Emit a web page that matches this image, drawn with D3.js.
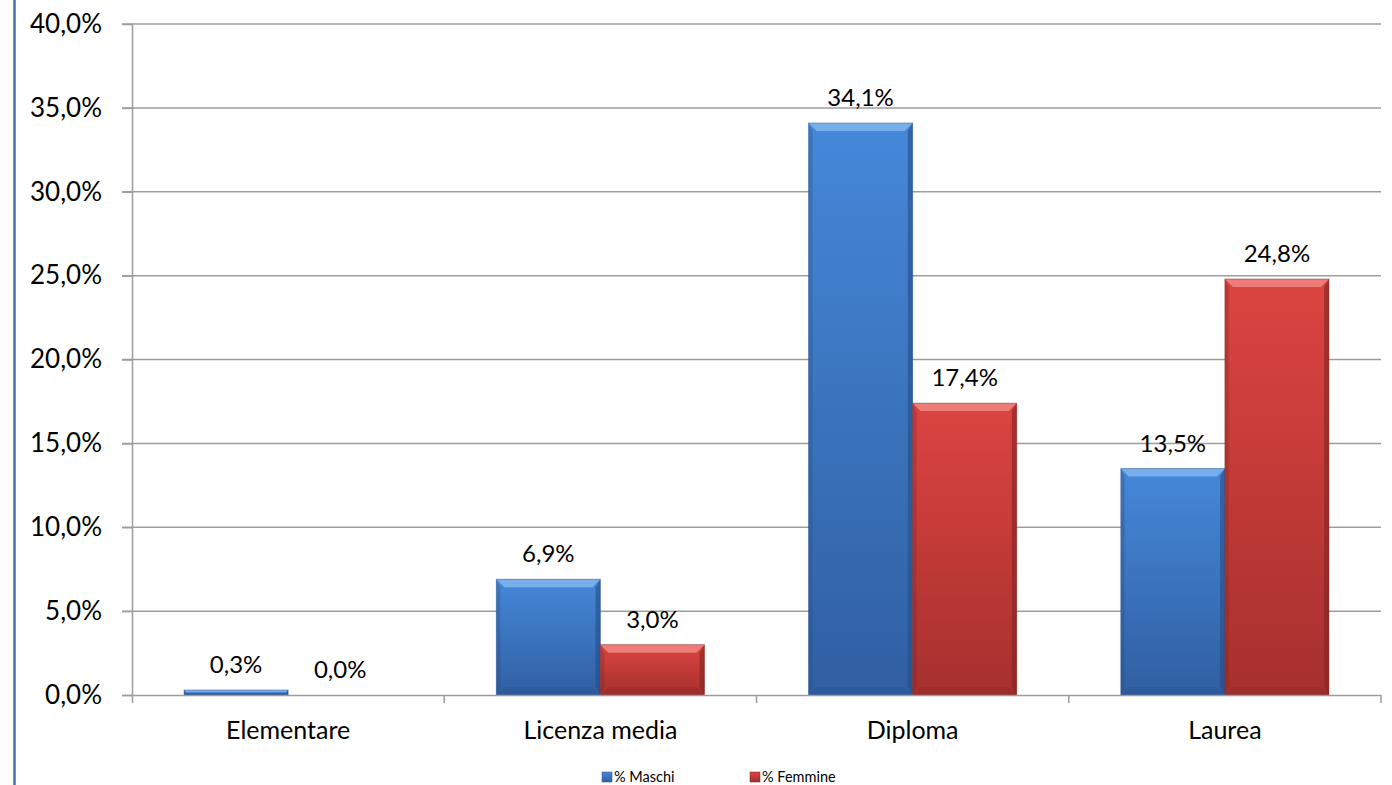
<!DOCTYPE html>
<html>
<head>
<meta charset="utf-8">
<script src="https://cdn.jsdelivr.net/npm/d3@7"></script>
<style>
  body { margin: 0; background: #fff; }
  svg { display: block; font-family: Lato, "Open Sans", sans-serif; }
</style>
</head>
<body>
<div id="chart"></div>
<script>
var categories = ['Elementare', 'Licenza media', 'Diploma', 'Laurea'];
var seriesNames = ['% Maschi', '% Femmine'];
var maschi = [0.3, 6.9, 34.1, 13.5];
var femmine = [0.0, 3.0, 17.4, 24.8];
var yTicks = [0, 5, 10, 15, 20, 25, 30, 35, 40];

var width = 1392, height = 785;
var margin = { left: 132, right: 11, top: 24, bottom: 90 };

var svg = d3.select('#chart').append('svg')
  .attr('width', width)
  .attr('height', height);

var fmt = function(v) { return d3.format('.1f')(v).replace('.', ',') + '%'; };

var x = d3.scaleBand()
  .domain(categories)
  .range([margin.left, width - margin.right])
  .paddingInner(0)
  .paddingOuter(0);

// two bars take 2/3 of each category, 1/6 gap on each side
var x1 = d3.scaleBand()
  .domain(seriesNames)
  .range([0, x.bandwidth()])
  .paddingOuter(0.5);

var y = d3.scaleLinear()
  .domain([0, 40])
  .range([height - margin.bottom, margin.top]);

// gradients
var defs = svg.append('defs');
var colors = [
  { top: '#4588d9', bottom: '#305fa2', light: '#86b8f0', dark: '#244d85' },
  { top: '#dc4441', bottom: '#a6302e', light: '#f28c88', dark: '#7f2422' }
];
colors.forEach(function(c, i) {
  var g = defs.append('linearGradient').attr('id', 'grad' + i)
    .attr('x1', 0).attr('y1', 0).attr('x2', 0).attr('y2', 1);
  g.append('stop').attr('offset', '0%').attr('stop-color', c.top);
  g.append('stop').attr('offset', '100%').attr('stop-color', c.bottom);
});

// left frame line
svg.append('line')
  .attr('x1', 14.5).attr('x2', 14.5)
  .attr('y1', 0).attr('y2', height)
  .attr('stroke', '#4a6fa5').attr('stroke-width', 2.5);

// gridlines
svg.append('g')
  .selectAll('line')
  .data(yTicks.filter(function(d) { return d > 0; }))
  .enter().append('line')
  .attr('x1', margin.left - 10)
  .attr('x2', width - margin.right)
  .attr('y1', function(d) { return y(d); })
  .attr('y2', function(d) { return y(d); })
  .attr('stroke', '#9d9d9d')
  .attr('stroke-width', 1.5);

// y axis
var yAxis = svg.append('g')
  .attr('transform', 'translate(' + margin.left + ',0)')
  .call(d3.axisLeft(y).tickValues(yTicks).tickSize(10).tickPadding(20).tickFormat(fmt));
yAxis.select('.domain').attr('stroke', '#9d9d9d').attr('stroke-width', 1.5)
  .attr('d', 'M0.5,' + margin.top + 'V' + (y(0) + 8));
yAxis.selectAll('.tick line').attr('stroke', '#9d9d9d').attr('stroke-width', 1.5);
yAxis.selectAll('.tick text')
  .attr('font-size', 26).attr('fill', '#000')
  .attr('font-family', 'Lato, sans-serif');

// bars
var series = [maschi, femmine];
var bevel = 8;
categories.forEach(function(cat, ci) {
  series.forEach(function(vals, si) {
    var v = vals[ci];
    if (v <= 0) return;
    var bx = x(cat) + x1(seriesNames[si]);
    var bw = x1.bandwidth();
    var by = y(v);
    var bh = y(0) - by;
    var c = colors[si];
    var g = svg.append('g');
    g.append('rect')
      .attr('x', bx).attr('y', by)
      .attr('width', bw).attr('height', bh)
      .attr('fill', 'url(#grad' + si + ')');
    var b = Math.min(bevel, bh / 2);
    // top bevel
    g.append('polygon')
      .attr('points', [[bx, by], [bx + bw, by], [bx + bw - b, by + b], [bx + b, by + b]].join(' '))
      .attr('fill', c.light).attr('opacity', 0.8);
    // left + right edge
    g.append('polygon')
      .attr('points', [[bx, by], [bx + b * 0.5, by + b], [bx + b * 0.5, by + bh - b], [bx, by + bh]].join(' '))
      .attr('fill', c.dark).attr('opacity', 0.3);
    g.append('polygon')
      .attr('points', [[bx + bw, by], [bx + bw - b * 0.6, by + b], [bx + bw - b * 0.6, by + bh - b], [bx + bw, by + bh]].join(' '))
      .attr('fill', c.dark).attr('opacity', 0.6);
    // bottom bevel
    g.append('polygon')
      .attr('points', [[bx, by + bh], [bx + bw, by + bh], [bx + bw - b, by + bh - b], [bx + b, by + bh - b]].join(' '))
      .attr('fill', c.dark).attr('opacity', 0.25);
    g.append('rect')
      .attr('x', bx).attr('y', by)
      .attr('width', bw).attr('height', bh)
      .attr('fill', 'none').attr('stroke', c.dark).attr('stroke-opacity', 0.4).attr('stroke-width', 1);
  });
});

// x axis
var xAxis = svg.append('g')
  .attr('transform', 'translate(0,' + y(0) + ')')
  .call(d3.axisBottom(x).tickSize(0).tickPadding(26));
xAxis.select('.domain').attr('stroke', '#9d9d9d').attr('stroke-width', 1.5)
  .attr('d', 'M' + (margin.left - 10) + ',0.5H' + (width - margin.right));
xAxis.selectAll('.tick text')
  .attr('font-size', 25).attr('fill', '#000')
  .attr('font-family', 'Lato, sans-serif');
svg.append('g').selectAll('line')
  .data(categories)
  .enter().append('line')
  .attr('x1', function(d) { return x(d) + x.bandwidth(); })
  .attr('x2', function(d) { return x(d) + x.bandwidth(); })
  .attr('y1', y(0)).attr('y2', y(0) + 8)
  .attr('stroke', '#9d9d9d').attr('stroke-width', 1.5);

// data labels
categories.forEach(function(cat, ci) {
  series.forEach(function(vals, si) {
    var v = vals[ci];
    svg.append('text')
      .attr('x', x(cat) + x1(seriesNames[si]) + x1.bandwidth() / 2)
      .attr('y', y(v) - 17)
      .attr('text-anchor', 'middle')
      .attr('font-size', 24)
      .attr('fill', '#000')
      .text(fmt(v));
  });
});

// legend
var legendX = [602, 750];
var legend = svg.append('g').attr('transform', 'translate(0,772)');
seriesNames.forEach(function(name, i) {
  legend.append('rect')
    .attr('x', legendX[i]).attr('y', 0)
    .attr('width', 10).attr('height', 10)
    .attr('fill', 'url(#grad' + i + ')')
    .attr('stroke', colors[i].dark).attr('stroke-width', 0.5);
  legend.append('text')
    .attr('x', legendX[i] + 12).attr('y', 10)
    .attr('font-size', 14.5).attr('fill', '#000')
    .text(name);
});
</script>
</body>
</html>
